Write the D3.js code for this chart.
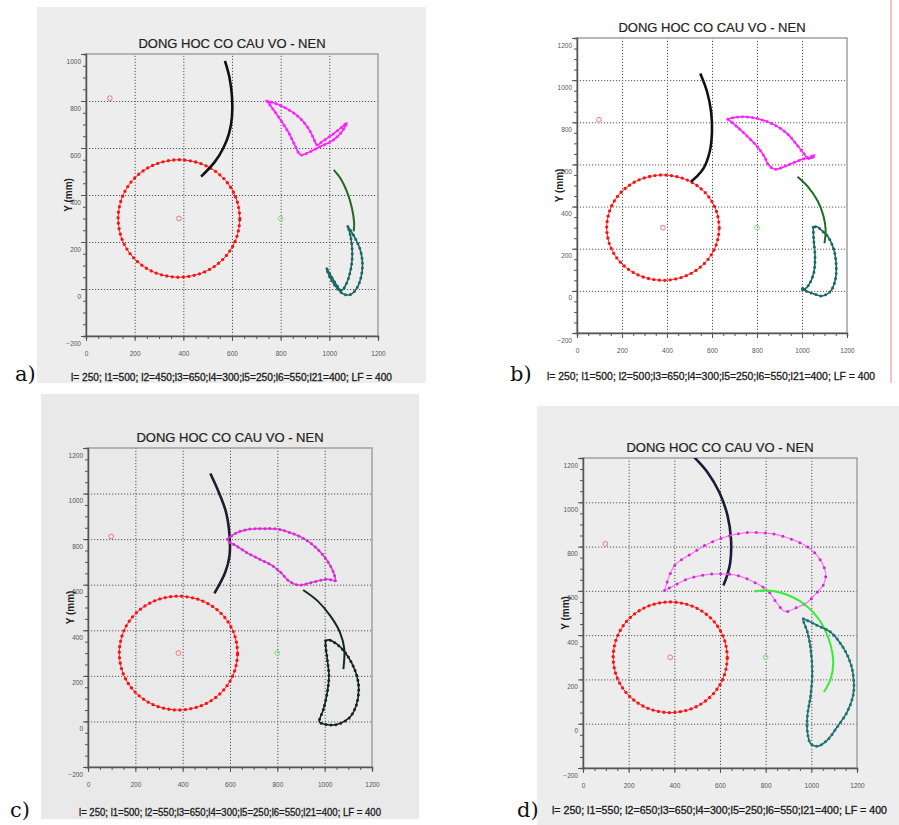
<!DOCTYPE html>
<html>
<head>
<meta charset="utf-8">
<script src="https://cdnjs.cloudflare.com/ajax/libs/d3/7.8.5/d3.min.js"></script>
<style>
  body { margin: 0; background: #fff; }
  svg { display: block; }
</style>
</head>
<body>
<svg id="fig" width="899" height="825"></svg>
<script>
/*
  Dong hoc co cau vo - nen : 4 cases
*/

// tick labels
var xTicks = [0, 200, 400, 600, 800, 1000, 1200],
    yTicksShort = [-200, 0, 200, 400, 600, 800, 1000],
    yTicks = [-200, 0, 200, 400, 600, 800, 1000, 1200];

var title = "DONG HOC CO CAU VO - NEN",
    yLabel = "Y (mm)";

var captions = [
  "l= 250; l1=500; l2=450;l3=650;l4=300;l5=250;l6=550;l21=400; LF = 400",
  "l= 250; l1=500; l2=500;l3=650;l4=300;l5=250;l6=550;l21=400; LF = 400",
  "l= 250; l1=500; l2=550;l3=650;l4=300;l5=250;l6=550;l21=400; LF = 400",
  "l= 250; l1=550; l2=650;l3=650;l4=300;l5=250;l6=550;l21=400; LF = 400"
];
var letters = ["a)", "b)", "c)", "d)"];

// fixed pivots (x, y in mm)
var pivotsRed = [[98, 812], [382, 300]],
    pivotsGreen = [[800, 300]];

// crank circle (same in all cases)
var crank = [[632,300],[628,343],[617,386],[599,425],[574,461],[543,492],[507,517],[468,535],[425,546],
  [382,550],[339,546],[296,535],[257,517],[221,492],[190,461],[165,425],[147,386],[136,343],
  [132,300],[136,257],[147,214],[165,175],[190,139],[221,108],[257,83],[296,65],[339,54],
  [382,50],[425,54],[468,65],[507,83],[543,108],[574,139],[599,175],[617,214],[628,257],[632,300]];

// case a
var blackA = [[571,971],[589,903],[600,818],[600,733],[588,662],[564,599],[530,542],[473,478]];
var magentaA = [[743,800],[766,769],[800,719],[834,663],[861,606],[882,571],[922,585],[963,606],
  [1011,630],[1049,666],[1072,708],[1054,691],[1011,656],[970,627],[950,613],[932,649],[909,691],
  [875,731],[834,762],[786,787],[743,800]];
var greenA = [[1018,507],[1045,472],[1072,415],[1093,344],[1102,280],[1100,245]];
var tealA = [[1076,266],[1106,217],[1127,167],[1136,110],[1131,54],[1113,4],[1086,-24],[1058,-21],
  [1031,4],[1004,47],[988,89],[1004,61],[1025,25],[1049,-6],[1068,18],[1083,61],[1093,118],
  [1093,181],[1086,231],[1076,266]];

// case b
var blackB = [[548,1031],[578,945],[596,850],[600,755],[590,661],[563,582],[533,543],[507,519]];
var magentaB = [[670,815],[700,823],[740,826],[800,818],[874,790],[933,747],[978,692],[1007,653],
  [1025,632],[1045,640],[1055,645],[1048,632],[1030,628],[1018,629],[973,613],[928,593],[880,577],
  [850,600],[835,632],[805,680],[760,730],[711,779],[670,815]];
var greenB = [[980,542],[1026,495],[1071,424],[1096,353],[1105,289],[1100,226]];
var tealB = [[1050,302],[1052,242],[1058,163],[1052,84],[1030,28],[1009,5],[1000,2],[1003,12],
  [1015,0],[1045,-11],[1088,-24],[1126,-3],[1148,52],[1152,123],[1140,202],[1115,258],[1088,286],
  [1066,305],[1050,302]];

// case c
var blackC = [[517,1088],[552,1007],[583,919],[598,816],[598,728],[580,655],[534,562]];
var magentaC = [[589,800],[630,829],[684,844],[739,846],[800,844],[861,826],[916,800],[970,756],
  [1011,705],[1038,653],[1045,624],[1045,617],[1011,624],[956,613],[916,602],[889,598],[848,617],
  [814,654],[780,683],[725,712],[671,741],[623,773],[596,788],[589,800]];
var greenC = [[909,577],[970,529],[1024,463],[1065,390],[1083,317],[1079,230]];
var tealC = [[1004,354],[1018,358],[1052,339],[1086,303],[1113,259],[1136,200],[1144,142],[1133,69],
  [1106,18],[1065,-9],[1024,-16],[984,-7],[977,-1],[995,54],[1011,127],[1018,200],[1011,273],
  [1004,332],[1004,354]];

// case d
var blackD = [[480,1211],[545,1136],[597,1045],[633,940],[648,835],[645,729],[631,669],[615,624]];
var magentaD = [[357,602],[401,714],[473,767],[546,812],[619,842],[706,862],[786,862],[852,853],
  [968,808],[1026,759],[1062,684],[1055,632],[1026,594],[983,549],[939,526],[884,507],[852,541],
  [808,602],[750,639],[677,669],[604,677],[532,672],[459,654],[386,617],[357,602]];
var greenD = [[750,597],[808,602],[881,587],[968,541],[1041,459],[1085,353],[1096,278],[1085,203],[1055,143]];
var tealD = [[965,474],[983,466],[1026,444],[1084,414],[1143,338],[1175,263],[1186,188],[1183,128],
  [1157,53],[1113,-15],[1069,-75],[1026,-102],[997,-90],[983,-38],[983,38],[997,128],[1004,233],
  [997,338],[983,414],[965,466],[965,474]];

// layout of the four pictures
var panels = [
  {bg: [37, 7, 389, 376], bgFill: "#ededed", left: 86, right: 378, top: 54, bottom: 336, yTicks: yTicksShort,
   capX: 71, capW: 321, capY: 381, letX: 15, letY: 381,
   black: blackA, magenta: magentaA, green: greenA, teal: tealA,
   col: {black: "#111", magenta: "#ff22ff", magDot: "#ff22ff", green: "#1e6b1e", teal: "#1b6864"}},
  {bg: null, bgFill: "#fff", left: 577, right: 847, top: 38, bottom: 333, yTicks: yTicks,
   capX: 547, capW: 328, capY: 380, letX: 510, letY: 381,
   black: blackB, magenta: magentaB, green: greenB, teal: tealB,
   col: {black: "#111", magenta: "#ff22ff", magDot: "#ff22ff", green: "#1e6b1e", teal: "#1b6864"}},
  {bg: [41, 394, 378, 425], bgFill: "#e9e9e9", left: 88, right: 372, top: 448, bottom: 767, yTicks: yTicks,
   capX: 79, capW: 302, capY: 816, letX: 10, letY: 817,
   black: blackC, magenta: magentaC, green: greenC, teal: tealC,
   col: {black: "#1d1d2b", magenta: "#e040e0", magDot: "#d030d0", green: "#18281e", teal: "#14261c"}},
  {bg: [537, 406, 362, 419], bgFill: "#ededed", left: 583, right: 857, top: 458, bottom: 768, yTicks: yTicks,
   capX: 552, capW: 335, capY: 814, letX: 517, letY: 817,
   black: blackD, magenta: magentaD, green: greenD, teal: tealD,
   col: {black: "#1a1a3a", magenta: "#f07af0", magDot: "#e020e0", green: "#33ee33", teal: "#1f7474"}}
];

var svg = d3.select("#fig");

// thin red rule at the right of picture b
svg.append("line")
  .attr("x1", 891).attr("x2", 891).attr("y1", 0).attr("y2", 383)
  .attr("stroke", "#ee8888").attr("stroke-width", 1);

function drawPanel(p, i){
  var g = svg.append("g"),
      width = p.right - p.left,
      height = p.bottom - p.top;

  if(p.bg){
    g.append("rect")
      .attr("x", p.bg[0]).attr("y", p.bg[1])
      .attr("width", p.bg[2]).attr("height", p.bg[3])
      .attr("fill", p.bgFill);
  }

  var x = d3.scaleLinear().domain([0, 1200]).range([p.left, p.right]),
      y = d3.scaleLinear().domain([-200, p.yTicks[p.yTicks.length - 1]]).range([p.bottom, p.top]);

  //grid lines (dotted)
  g.append("g")
    .attr("transform", "translate(0," + p.bottom + ")")
    .call(d3.axisBottom(x).tickValues(xTicks.slice(1, -1)).tickSize(-height).tickFormat(""))
    .call(function(s){ s.select(".domain").remove(); })
    .selectAll("line")
      .attr("stroke", "#555").attr("stroke-width", 1).attr("stroke-dasharray", "1.2,1.8");

  g.append("g")
    .attr("transform", "translate(" + p.left + ",0)")
    .call(d3.axisLeft(y).tickValues(p.yTicks.slice(1, -1)).tickSize(-width).tickFormat(""))
    .call(function(s){ s.select(".domain").remove(); })
    .selectAll("line")
      .attr("stroke", "#555").attr("stroke-width", 1).attr("stroke-dasharray", "1.2,1.8");

  // frame
  g.append("rect")
    .attr("x", p.left).attr("y", p.top)
    .attr("width", width).attr("height", height)
    .attr("fill", "none").attr("stroke", "#a0a0a0").attr("stroke-width", 1.5);

  // minor ticks
  g.append("g")
    .attr("transform", "translate(0," + p.bottom + ")")
    .call(d3.axisBottom(x).tickValues(d3.range(0, 1201, 50)).tickSize(3).tickFormat(""))
    .call(function(s){ s.select(".domain").attr("stroke", "#555").attr("stroke-width", 1.5); })
    .selectAll("line").attr("stroke", "#555");

  g.append("g")
    .attr("transform", "translate(" + p.left + ",0)")
    .call(d3.axisLeft(y).tickValues(d3.range(-200, y.domain()[1] + 1, 50)).tickSize(3).tickFormat(""))
    .call(function(s){ s.select(".domain").attr("stroke", "#555").attr("stroke-width", 1.5); })
    .selectAll("line").attr("stroke", "#555");

  // tick labels
  var xAxis = g.append("g")
    .attr("transform", "translate(0," + p.bottom + ")")
    .call(d3.axisBottom(x).tickValues(xTicks).tickSize(5).tickFormat(d3.format("d")));
  xAxis.select(".domain").remove();
  xAxis.selectAll("line").attr("stroke", "#555");
  xAxis.selectAll("text")
    .attr("y", 18).attr("dy", "0.32em")
    .style("font-family", "Liberation Sans, Arial, sans-serif")
    .style("font-size", "6.5px")
    .attr("fill", "#555");

  var yAxis = g.append("g")
    .attr("transform", "translate(" + p.left + ",0)")
    .call(d3.axisLeft(y).tickValues(p.yTicks).tickSize(5).tickFormat(d3.format("d")));
  yAxis.select(".domain").remove();
  yAxis.selectAll("line").attr("stroke", "#555");
  yAxis.selectAll("text")
    .attr("x", -5).attr("y", 7)
    .style("font-family", "Liberation Sans, Arial, sans-serif")
    .style("font-size", "6.5px")
    .attr("fill", "#555");

  //Label for Y axis
  g.append("text")
    .attr("transform", "translate(" + (p.left - 18) + "," + (p.top + height / 2) + ") rotate(-90)")
    .style("text-anchor", "middle")
    .attr("dy", "0.35em")
    .style("font-family", "Liberation Sans, Arial, sans-serif")
    .style("font-weight", "bold")
    .style("font-size", "10px")
    .attr("fill", "#222")
    .text(yLabel);

  // title
  g.append("text")
    .attr("x", p.left + width / 2)
    .attr("y", p.top - 6)
    .style("text-anchor", "middle")
    .style("font-family", "Liberation Sans, Arial, sans-serif")
    .style("font-size", "13px")
    .attr("fill", "#222")
    .attr("stroke", "#222").attr("stroke-width", 0.2)
    .text(title);

  // caption + letter
  g.append("text")
    .attr("x", p.capX).attr("y", p.capY)
    .attr("textLength", p.capW).attr("lengthAdjust", "spacingAndGlyphs")
    .style("font-family", "Liberation Sans, Arial, sans-serif")
    .style("font-size", "10.5px")
    .attr("fill", "#1a1a1a")
    .attr("stroke", "#1a1a1a").attr("stroke-width", 0.3)
    .text(captions[i]);

  g.append("text")
    .attr("x", p.letX).attr("y", p.letY)
    .style("font-family", "DejaVu Serif, Liberation Serif, serif")
    .style("font-size", "21px")
    .attr("fill", "#111")
    .text(letters[i]);

  // curves, clipped to the plot
  var clipId = "clip" + i;
  g.append("clipPath").attr("id", clipId)
    .append("rect").attr("x", p.left).attr("y", p.top).attr("width", width).attr("height", height);

  var plot = g.append("g").attr("clip-path", "url(#" + clipId + ")");

  var line = d3.line()
    .x(function(d){ return x(d[0]); })
    .y(function(d){ return y(d[1]); })
    .curve(d3.curveCatmullRom.alpha(0.5));

  function trace(data, color, w, dotColor, dotW, gap){
    plot.append("path")
      .attr("d", line(data))
      .attr("fill", "none")
      .attr("stroke", color)
      .attr("stroke-width", w)
      .attr("stroke-linejoin", "round");
    if(dotColor){
      plot.append("path")
        .attr("d", line(data))
        .attr("fill", "none")
        .attr("stroke", dotColor)
        .attr("stroke-width", dotW)
        .attr("stroke-linecap", "round")
        .attr("stroke-dasharray", "0," + gap);
    }
  }

  trace(crank, "#ff2020", 1, "#ff1010", 3.3, 5.5);
  trace(p.black, p.col.black, 2.6);
  trace(p.magenta, p.col.magenta, i == 3 ? 1.2 : 1.6, p.col.magDot, 3, i == 3 ? 9 : 5);
  trace(p.green, p.col.green, 2);
  trace(p.teal, p.col.teal, 1.6, p.col.teal, 3, 5);

  // fixed pivots
  plot.selectAll(".pvr")
    .data(pivotsRed)
    .enter().append("circle")
      .attr("cx", function(d){ return x(d[0]); })
      .attr("cy", function(d){ return y(d[1]); })
      .attr("r", 2.4)
      .attr("fill", "none")
      .attr("stroke", "#f07878")
      .attr("stroke-width", 1);

  plot.selectAll(".pvg")
    .data(pivotsGreen)
    .enter().append("circle")
      .attr("cx", function(d){ return x(d[0]); })
      .attr("cy", function(d){ return y(d[1]); })
      .attr("r", 2.4)
      .attr("fill", "none")
      .attr("stroke", "#80e080")
      .attr("stroke-width", 1);
}

panels.forEach(drawPanel);
</script>
</body>
</html>
